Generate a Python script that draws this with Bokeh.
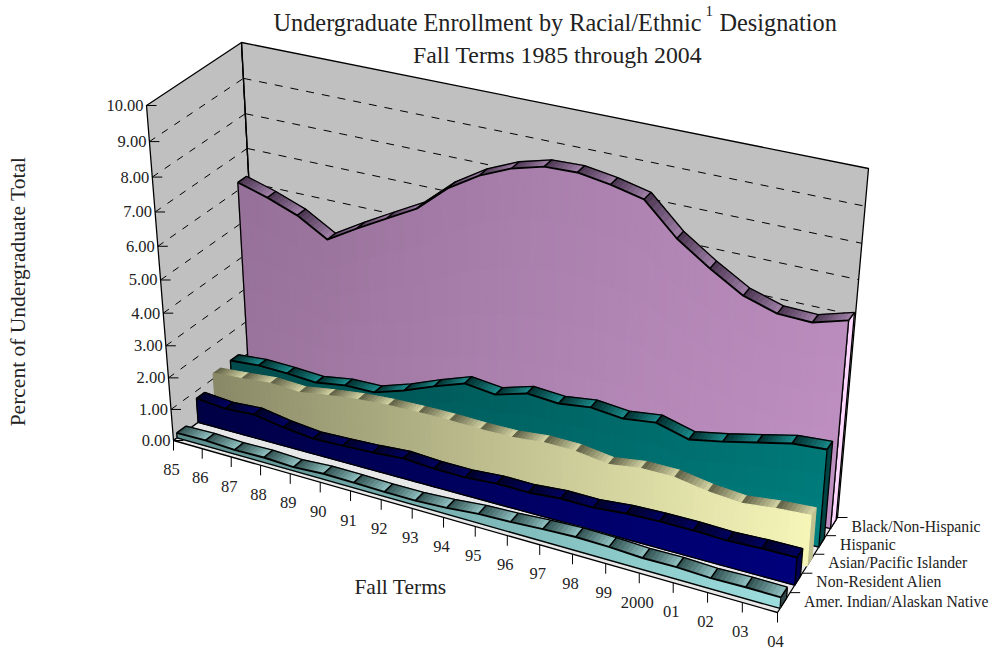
import numpy as np
from bokeh.plotting import figure
from bokeh.models import Range1d, ColumnDataSource
from bokeh.core.properties import value
from bokeh.embed import file_html
from bokeh.resources import INLINE

years = ["85","86","87","88","89","90","91","92","93","94","95","96","97","98","99","2000","01","02","03","04"]
amer_indian = [.16,.18,.14,.16,.12,.18,.17,.15,.15,.2,.29,.32,.38,.42,.4,.35,.36,.32,.34,.33]
non_resident = [.77,.69,.75,.59,.49,.52,.56,.63,.57,.56,.63,.62,.7,.69,.78,.81,.81,.78,.82,.83]
asian = [1.16,1.23,1.31,1.26,1.4,1.51,1.57,1.59,1.59,1.56,1.56,1.65,1.63,1.49,1.62,1.61,1.44,1.35,1.46,1.52]
hispanic = [1.17,1.24,1.21,1.15,1.29,1.3,1.59,1.95,2.27,2.16,2.43,2.36,2.48,2.38,2.5,2.24,2.42,2.64,2.86,2.93]
black = [6.23,5.97,5.64,5.12,5.64,6.13,6.61,7.38,7.93,8.32,8.56,8.59,8.45,8.24,7.36,6.73,6.18,5.89,5.86,6.14]
series_names = ["Amer. Indian/Alaskan Native","Non-Resident Alien","Asian/Pacific Islander","Hispanic","Black/Non-Hispanic"]
y_ticks = [0,1,2,3,4,5,6,7,8,9,10]
FONT = value("Liberation Serif")

# camera: world (year index, value, depth) -> reference pixel, fitted to the box corners
world = [(0,0,0),(0,10,0),(19,0,0),(19,0,5),(19,10,5),(0,0,5),(0,10,5)]
pix = [(173,440),(146,105),(777,612),(837,517),(868,168),(259,377),(241,42)]
A = []
for (X,Y,Z),(u,v) in zip(world,pix):
    A.append([X,Y,Z,1,0,0,0,0,-u*X,-u*Y,-u*Z,-u])
    A.append([0,0,0,0,X,Y,Z,1,-v*X,-v*Y,-v*Z,-v])
P = np.linalg.svd(np.array(A,float))[2][-1].reshape(3,4)
def pr0(x,y,z):
    h = P @ np.array([x,y,z,1.0])
    return np.array([h[0]/h[2], h[1]/h[2]])
res={}
for w,q in zip(world,pix):
    res[(w[0]>0,w[1]>0,w[2]>0)]=np.array(q,float)-pr0(*w)
res[(True,True,False)]=res[(True,False,False)]
def pr(x,y,z):
    a,b,c=x/19,y/10,z/5
    r=np.zeros(2)
    for (i,j,k),v in res.items():
        r+=v*(a if i else 1-a)*(b if j else 1-b)*(c if k else 1-c)
    q=pr0(x,y,z)+r
    return float(q[0]),float(q[1])

def hexrgb(c): return np.array([int(c[i:i+2],16) for i in (1,3,5)],float)
def mix(a,b,t):
    r = hexrgb(a)*(1-t)+hexrgb(b)*t
    return "#%02x%02x%02x" % tuple(int(round(k)) for k in r)

p = figure(width=997,height=654,x_range=Range1d(0,997),y_range=Range1d(654,0),
           output_backend="svg",toolbar_location=None,min_border=0,outline_line_color=None)
p.axis.visible=False; p.grid.visible=False

def poly(pts,fill,line="black",lw=1.3):
    p.patch([a for a,_ in pts],[b for _,b in pts],fill_color=fill,line_color=line,line_width=lw)
def seg(pts,lw=1.3,dash="solid",color="black"):
    p.line([a for a,_ in pts],[b for _,b in pts],line_color=color,line_width=lw,line_dash=dash)

poly([pr(0,0,0),pr(0,10,0),pr(0,10,5),pr(0,0,5)],"#c0c0c0")
poly([pr(0,0,5),pr(0,10,5),pr(19,10,5),pr(19,0,5)],"#c0c0c0")
poly([pr(0,0,0),pr(19,0,0),pr(19,0,5),pr(0,0,5)],"#e8e8e8")
for t in y_ticks[1:-1]:
    seg([pr(0,t,0),pr(0,t,5)],1,"7 8")
    seg([pr(0,t,5),pr(19,t,5)],1,"8 8")
seg([pr(0,10,5),pr(0,0,5)],1.3)
for t in y_ticks:
    a=pr(0,t,0); seg([a,(a[0]+10,a[1])],1)
    p.text([a[0]-3],[a[1]],text=["%.2f"%t],text_font=FONT,text_font_size="16.5px",text_align="right",text_baseline="middle",text_color="#222222")
for i,y in enumerate(years):
    a=pr(i,0,0); seg([a,(a[0],a[1]+10)],1)
    p.text([a[0]-2],[a[1]+29],text=[y],text_font=FONT,text_font_size="16.5px",text_align="center",text_baseline="middle",text_color="#222222")
for i,n in enumerate(series_names):
    a=pr(19,0,i+1); seg([a,(a[0]+10,a[1])],1)
    p.text([a[0]+14],[a[1]+8.5],text=[n],text_font=FONT,text_font_size="15.7px",text_align="left",text_baseline="middle",text_color="#222222")

#        values, slot, near, far, face-dark, face-light, top-dark, top-light, end, outlined, vertical steps
styles = [
 (amer_indian,0,.2,.72,"#558585","#a2e4e4","#2f4f4f","#8fc0c0","#304848",True,1),
 (non_resident,1,.38,.85,"#000040","#000080","#000028","#000060","#000050",True,1),
 (asian,2,.38,.8,"#7f7f60","#ffffc0","#5f5f45","#d4d4a4","#c0c090",False,1),
 (hispanic,3,.38,.85,"#004a4a","#008080","#002c2c","#1a8a8a","#004444",True,4),
 (black,4,.38,.88,"#957098","#c191c4","#4a3550","#a080a8","#ffd8ff",True,6),
]
NF,NR=5,8
for vals,zi,zn,zf,fa,fb,ra,rb,endc,outlined,nv in reversed(styles):
    z0,z1=zi+zn,zi+zf
    poly([pr(19,0,z0),pr(19,vals[-1],z0),pr(19,vals[-1],z1),pr(19,0,z1)],endc,"black" if outlined else endc,1.3)
    xs,ys,cols=[],[],[]
    for i in range(19):
        for k in range(NR):
            s0,s1=k/NR,(k+1)/NR
            v0=vals[i]+(vals[i+1]-vals[i])*s0; v1=vals[i]+(vals[i+1]-vals[i])*s1
            q=[pr(i+s0,v0,z0),pr(i+s1,v1,z0),pr(i+s1,v1,z1),pr(i+s0,v0,z1)]
            xs.append([a for a,_ in q]); ys.append([b for _,b in q]); cols.append(mix(ra,rb,(k+.5)/NR))
    p.patches("x","y",source=ColumnDataSource(dict(x=xs,y=ys,c=cols)),fill_color="c",line_color="c",line_width=1)
    xs,ys,cols=[],[],[]
    for i in range(19):
        for k in range(NF):
            s0,s1=k/NF,(k+1)/NF
            v0=vals[i]+(vals[i+1]-vals[i])*s0; v1=vals[i]+(vals[i+1]-vals[i])*s1
            for m in range(nv):
                a0,a1=m/nv,(m+1)/nv
                q=[pr(i+s0,v0*a0,z0),pr(i+s1,v1*a0,z0),pr(i+s1,v1*a1,z0),pr(i+s0,v0*a1,z0)]
                xs.append([a for a,_ in q]); ys.append([b for _,b in q])
                t=.85*(i+(k+.5)/NF)/19+.15*(1-(m+.5)/nv)
                cols.append(mix(fa,fb,min(1,max(0,t))))
    p.patches("x","y",source=ColumnDataSource(dict(x=xs,y=ys,c=cols)),fill_color="c",line_color="c",line_width=1.2)
    if outlined:
        seg([pr(i,vals[i],z0) for i in range(20)],1.9)
        seg([pr(i,vals[i],z1) for i in range(20)],1.3)
        for i in range(20):
            seg([pr(i,vals[i],z0),pr(i,vals[i],z1)],1.5)
        seg([pr(0,0,z0),pr(0,vals[0],z0)],1.3)
        seg([pr(0,0,z0),pr(19,0,z0),pr(19,vals[-1],z0)],1.3)

T=dict(text_font=FONT,text_baseline="middle",text_color="#222222")
p.text([273],[22],text=["Undergraduate Enrollment by Racial/Ethnic"],text_font_size="24.3px",text_align="left",**T)
p.text([705],[10],text=["1"],text_font_size="15px",text_align="left",**T)
p.text([719],[22],text=["Designation"],text_font_size="24.3px",text_align="left",**T)
p.text([557],[54],text=["Fall Terms 1985 through 2004"],text_font_size="23.8px",text_align="center",**T)
p.text([400],[586],text=["Fall Terms"],text_font_size="21.5px",text_align="center",**T)
p.text([17],[291],text=["Percent of Undergraduate Total"],text_font_size="21.5px",angle=np.pi/2,text_align="center",**T)

open("out.html","w").write(file_html(p,INLINE))
